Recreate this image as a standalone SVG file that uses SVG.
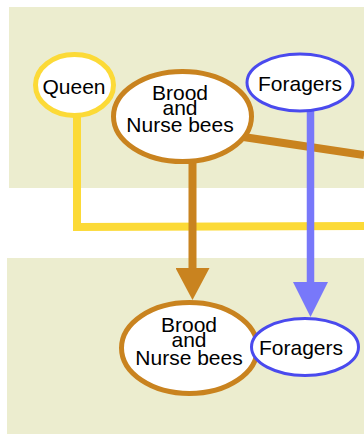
<svg xmlns="http://www.w3.org/2000/svg" width="364" height="435" viewBox="0 0 364 435">
<style>
.panel{fill:#ecedcf}
.node{fill:#fff}
.lbl{font-family:"Liberation Sans",Arial,sans-serif;font-size:21px;fill:#000;text-anchor:middle}
.yellow{stroke:#fcda37}
.brown{stroke:#c9831f}
.blue{stroke:#4a4aee}
.conn{fill:none}
</style>
<defs>
<marker id="ahBrown" markerUnits="userSpaceOnUse" viewBox="0 -17 32 34" markerWidth="32" markerHeight="34" refX="0" refY="0" orient="auto">
<path d="M0,-17 L32,0 L0,17 z" fill="#c9831f"/>
</marker>
<marker id="ahBlue" markerUnits="userSpaceOnUse" viewBox="0 -17.5 35 35" markerWidth="35" markerHeight="35" refX="0" refY="0" orient="auto">
<path d="M0,-17.5 L35,0 L0,17.5 z" fill="#7878fa"/>
</marker>
</defs>
<rect class="panel" x="9" y="7" width="355" height="181"/>
<rect class="panel" x="7" y="258" width="357" height="176"/>
<g id="connectors" class="conn">
<polyline points="77,112 77,227 364,226" stroke="#fcda37" stroke-width="8"/>
<line x1="240" y1="136.5" x2="364" y2="155" stroke="#c9831f" stroke-width="8"/>
<line x1="192.5" y1="160" x2="192.5" y2="268" stroke="#c9831f" stroke-width="8" marker-end="url(#ahBrown)"/>
<line x1="310.5" y1="110" x2="310.5" y2="282" stroke="#7878fa" stroke-width="7.5" marker-end="url(#ahBlue)"/>
</g>
<g id="queen">
<ellipse class="node yellow" cx="74.5" cy="85" rx="39" ry="30.5" stroke-width="5"/>
<text class="lbl" x="74" y="94">Queen</text>
</g>
<g id="brood-top">
<ellipse class="node brown" cx="182.5" cy="116.5" rx="69" ry="45" stroke-width="5"/>
<text class="lbl" x="180" y="99.5">Brood</text>
<text class="lbl" x="180" y="115">and</text>
<text class="lbl" x="180" y="131.5">Nurse bees</text>
</g>
<g id="foragers-top">
<ellipse class="node blue" cx="300" cy="82.5" rx="53" ry="28.5" stroke-width="3"/>
<text class="lbl" x="300" y="90.5">Foragers</text>
</g>
<g id="brood-bottom">
<ellipse class="node brown" cx="189.5" cy="348" rx="68" ry="45.5" stroke-width="5"/>
<text class="lbl" x="189" y="331.5">Brood</text>
<text class="lbl" x="189" y="347">and</text>
<text class="lbl" x="189" y="364.5">Nurse bees</text>
</g>
<g id="foragers-bottom">
<ellipse class="node blue" cx="305" cy="347" rx="53.5" ry="28.5" stroke-width="3"/>
<text class="lbl" x="301" y="355">Foragers</text>
</g>
</svg>
